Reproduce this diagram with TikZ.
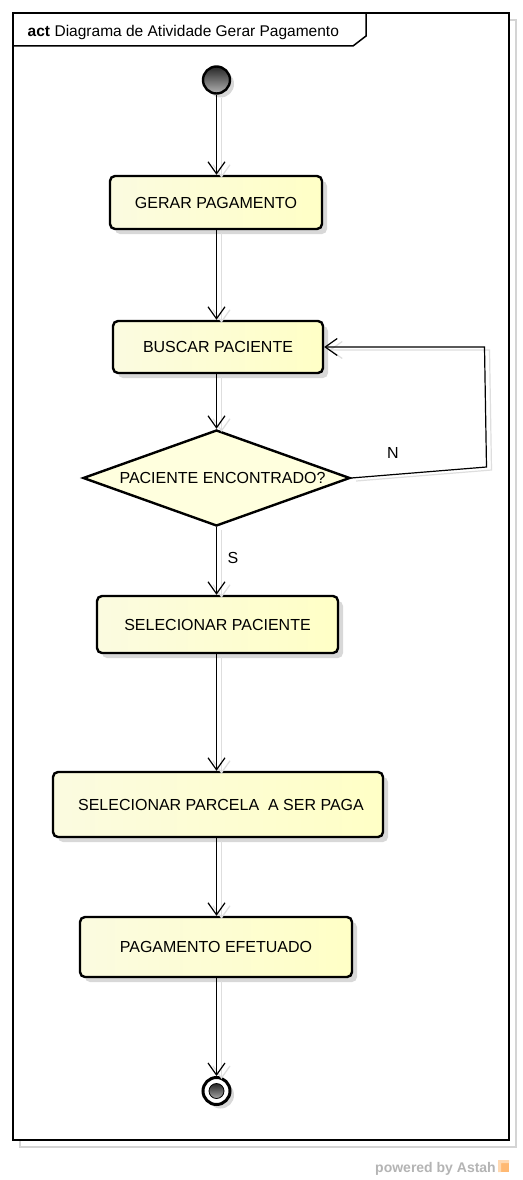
\documentclass[tikz,border=0pt]{standalone}
\usepackage{fontspec}
\setmainfont{Liberation Sans}
\usetikzlibrary{arrows.meta,shapes.geometric,shadows,calc}
\definecolor{boxL}{HTML}{FBFBE0}
\definecolor{boxM}{HTML}{FFFFF4}
\definecolor{boxR}{HTML}{FFFFC6}
\definecolor{diaFill}{HTML}{FFFFDE}
\definecolor{shadowGray}{HTML}{D4D4D4}
\definecolor{wmGray}{HTML}{B4B4B4}
\tikzset{
  actbox/.style={draw=black, line width=2.4pt, rounded corners=5pt,
    left color=boxL, middle color=boxM, right color=boxR,
    drop shadow={shadow xshift=5pt, shadow yshift=-5pt, fill=black!30, opacity=0.5},
    font=\fontsize{16}{19}\selectfont, inner sep=0pt},
  decision/.style={diamond, draw=black, line width=2.4pt, fill=diaFill, aspect=2.78,
    minimum width=267pt, minimum height=96pt, inner sep=0pt},
  conn/.style={draw=black, line width=1.2pt,
    -{Straight Barb[length=12pt, width=17pt, line width=1.2pt]}},
  connshadow/.style={draw=black!13, line width=1.2pt,
    -{Straight Barb[length=12pt, width=17pt, line width=1.2pt]},
    transform canvas={xshift=5pt, yshift=-3pt}},
  guardlabel/.style={font=\fontsize{16}{19}\selectfont, inner sep=0pt},
  startnode/.style={circle, draw=black, line width=2.4pt, minimum size=27pt, inner sep=0pt,
    top color=black!85, bottom color=black!30,
    drop shadow={shadow xshift=4pt, shadow yshift=-4pt, fill=black!30, opacity=0.5}},
  endouter/.style={circle, draw=black, line width=3pt, fill=white, minimum size=27pt, inner sep=0pt,
    drop shadow={shadow xshift=4pt, shadow yshift=-4pt, fill=black!30, opacity=0.5}},
  endinner/.style={circle, top color=black!85, bottom color=black!35, draw=black, line width=0.8pt,
    minimum size=15pt, inner sep=0pt},
  framebox/.style={draw=black, line width=1.5pt},
  frameshadow/.style={draw=shadowGray, line width=1.5pt}
}
\begin{document}
\begin{tikzpicture}[x=1pt, y=-1pt]
\useasboundingbox[fill=white] (0,0) rectangle (522,1180);

% frame
\draw[frameshadow] (20,20) rectangle (516,1147);
\draw[framebox, fill=white] (13,13) rectangle (509,1140);
\draw[framebox] (13,46) -- (353,46) -- (366,36) -- (366,13);
\node[anchor=base west, inner sep=0pt, font=\fontsize{15.5}{18}\selectfont] (title) at (27.5,37)
  {\textbf{act}\hspace{4.5pt}Diagrama de Atividade Gerar Pagamento};

% vertical axis of the flow
\coordinate (axis) at (216.5,0);

% nodes
\node[startnode] (start) at (216.5,80) {};
\node[actbox, minimum width=212pt, minimum height=53pt] (gerar) at (216,202.5) {GERAR PAGAMENTO};
\node[actbox, minimum width=210pt, minimum height=52pt] (buscar) at (218,347) {BUSCAR PACIENTE};
\node[decision] (dec) at (216.5,478) {};
\node[font=\fontsize{16}{19}\selectfont, inner sep=0pt] (dectext) at (222.5,478) {PACIENTE ENCONTRADO?};
\node[actbox, minimum width=241pt, minimum height=57pt] (selpac) at (217.5,624.5) {SELECIONAR PACIENTE};
\node[actbox, minimum width=330pt, minimum height=65pt] (selparc) at (218,804.5) {\hspace{6pt}SELECIONAR PARCELA\ \ A SER PAGA};
\node[actbox, minimum width=272pt, minimum height=60pt] (pagef) at (216,947) {PAGAMENTO EFETUADO};
\node[endouter] (fim) at (216.5,1091) {};
\node[endinner] (fimin) at (fim.center) {};

% loop corners
\coordinate (loopA) at (486.5,467);
\coordinate (loopB) at (484.5,347);

% connector shadows
\draw[connshadow] (start.south) -- (gerar.north -| axis);
\draw[connshadow] (gerar.south -| axis) -- (buscar.north -| axis);
\draw[connshadow] (buscar.south -| axis) -- (dec.north);
\draw[connshadow] (dec.south) -- (selpac.north -| axis);
\draw[connshadow] (selpac.south -| axis) -- (selparc.north -| axis);
\draw[connshadow] (selparc.south -| axis) -- (pagef.north -| axis);
\draw[connshadow] (pagef.south -| axis) -- (fim.north);
\draw[connshadow] (dec.east) -- (loopA) -- (loopB) -- (buscar.east);

% connectors
\draw[conn] (start.south) -- (gerar.north -| axis);
\draw[conn] (gerar.south -| axis) -- (buscar.north -| axis);
\draw[conn] (buscar.south -| axis) -- (dec.north);
\draw[conn] (dec.south) -- (selpac.north -| axis);
\draw[conn] (selpac.south -| axis) -- (selparc.north -| axis);
\draw[conn] (selparc.south -| axis) -- (pagef.north -| axis);
\draw[conn] (pagef.south -| axis) -- (fim.north);
\draw[conn] (dec.east) -- (loopA) -- (loopB) -- (buscar.east);

% guards
\node[guardlabel] (gN) at (393,453) {N};
\node[guardlabel] (gS) at (233,558) {S};

% watermark
\node[anchor=base east, inner sep=0pt, text=wmGray, font=\bfseries\fontsize{14}{16}\selectfont] (wm) at (496,1172) {powered by Astah};
\fill[orange!55] (498,1160) rectangle (509,1172);
\fill[white!70!orange] (498,1160) -- (509,1160) -- (509,1163) -- (501,1163) -- (501,1172) -- (498,1172) -- cycle;
\end{tikzpicture}
\end{document}
